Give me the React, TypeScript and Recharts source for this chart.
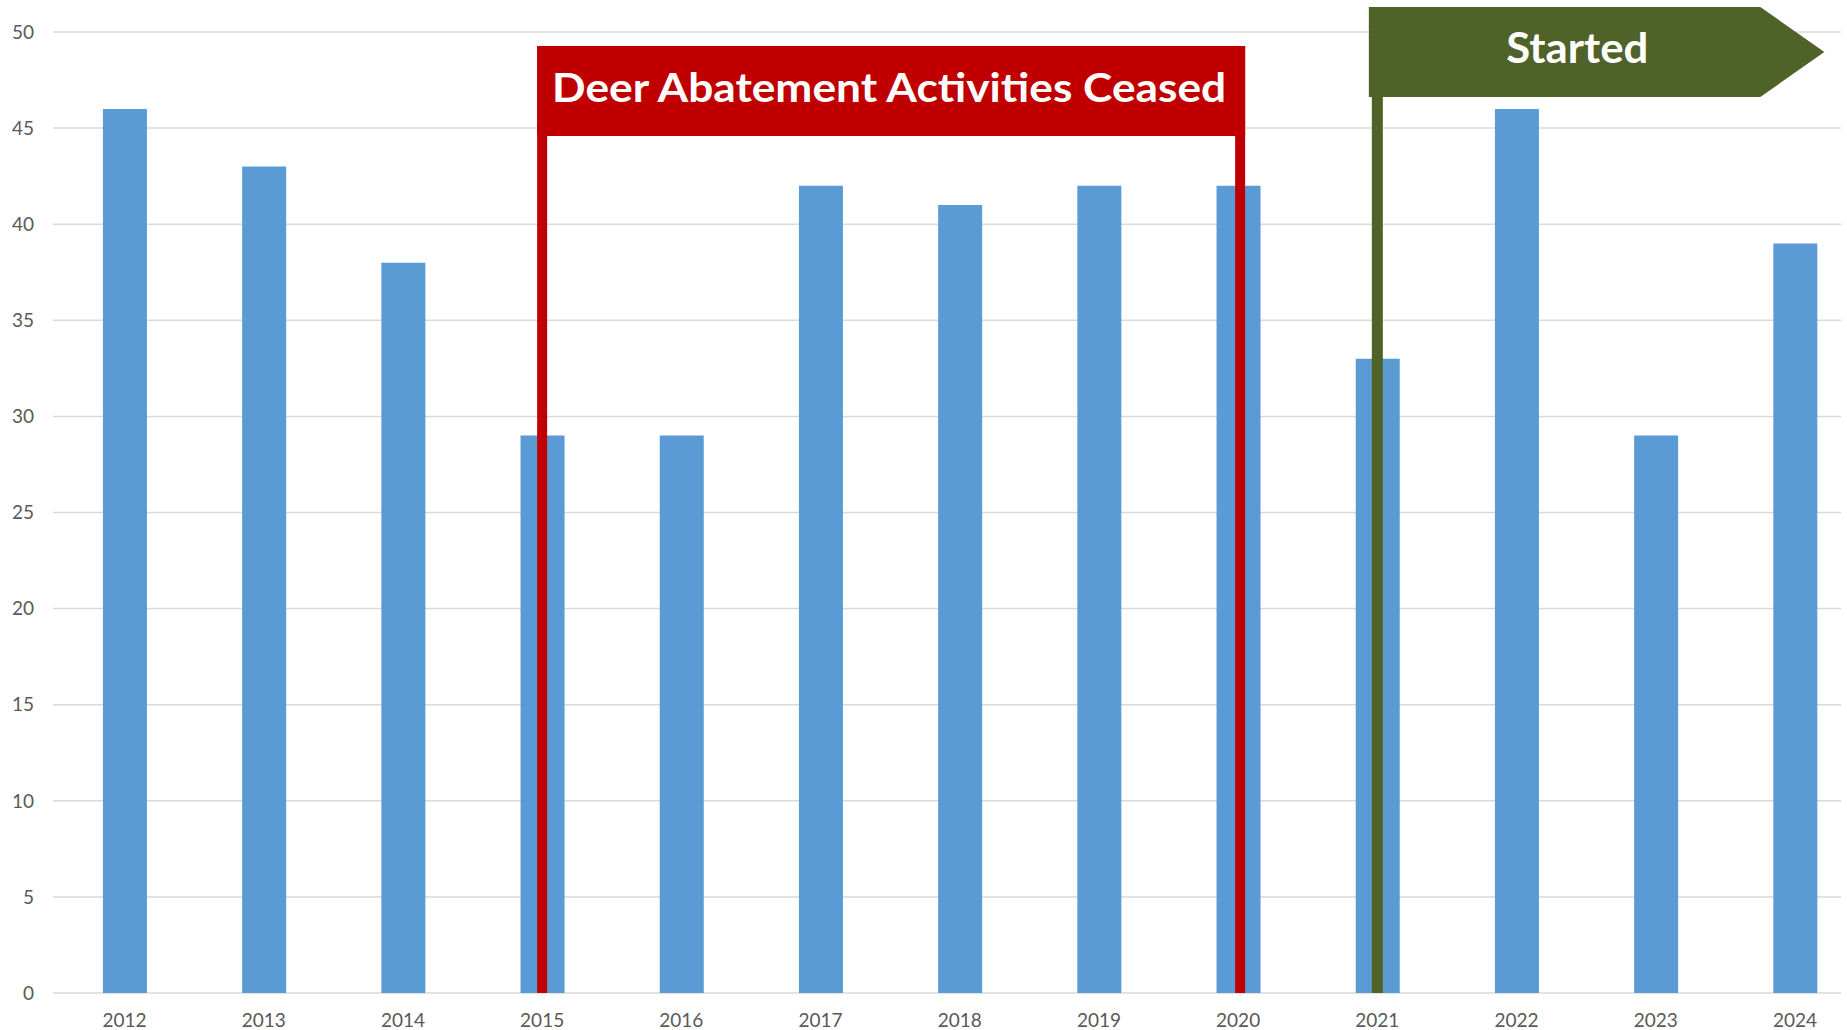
import React from "react";
import {
  Bar,
  BarChart,
  CartesianGrid,
  ReferenceArea,
  ReferenceLine,
  XAxis,
  YAxis,
} from "recharts";

const years = [2012, 2013, 2014, 2015, 2016, 2017, 2018, 2019, 2020, 2021, 2022, 2023, 2024];
const counts = [46, 43, 38, 29, 29, 42, 41, 42, 42, 33, 46, 29, 39];
const yTicks = [0, 5, 10, 15, 20, 25, 30, 35, 40, 45, 50];

const ceasedFrom = 2015;
const ceasedTo = 2020;
const startedYear = 2021;
const ceasedLabel = "Deer Abatement Activities Ceased";
const startedLabel = "Started";

const BLUE = "#5B9BD5";
const RED = "#C00000";
const GREEN = "#4F6228";
const GRID = "#D9D9D9";
const TEXT = "#595959";
const FONT = "Lato, 'Open Sans', sans-serif";

const data = years.map((year, i) => ({ year, count: counts[i] }));

function CeasedBanner(props: any) {
  const { x, y, width, height } = props;
  const left = x - 5;
  const right = x + width + 7;
  const top = y + 14;
  const bottom = y + height;
  return (
    <g>
      <rect x={left} y={top} width={right - left} height={90} fill={RED} />
      <rect x={left} y={top} width={10} height={bottom - top} fill={RED} />
      <rect x={right - 10} y={top} width={10} height={bottom - top} fill={RED} />
      <text
        x={(left + right) / 2 - 2}
        y={top + 56}
        textAnchor="middle"
        fill="#fff"
        fontFamily={FONT}
        fontWeight={700}
        fontSize={40}
        textLength={674}
        lengthAdjust="spacingAndGlyphs"
      >
        {ceasedLabel}
      </text>
    </g>
  );
}

function StartedFlag(props: any) {
  const cx = props.x1;
  const top = Math.min(props.y1, props.y2);
  const bottom = Math.max(props.y1, props.y2);
  const fTop = top - 25;
  const fBot = top + 65;
  const fLeft = cx - 8.5;
  const arrow = cx + 383;
  const tip = cx + 447;
  return (
    <g>
      <rect x={cx - 5.5} y={fBot - 1} width={11} height={bottom - fBot + 1} fill={GREEN} />
      <polygon
        points={`${fLeft},${fTop} ${arrow},${fTop} ${tip},${(fTop + fBot) / 2} ${arrow},${fBot} ${fLeft},${fBot}`}
        fill={GREEN}
      />
      <text
        x={cx + 200}
        y={top + 31}
        textAnchor="middle"
        fill="#fff"
        fontFamily={FONT}
        fontWeight={700}
        fontSize={42}
        textLength={142}
        lengthAdjust="spacingAndGlyphs"
      >
        {startedLabel}
      </text>
    </g>
  );
}

export default function App() {
  return (
    <div
      style={{
        position: "absolute",
        left: 0,
        top: 0,
        width: 1847,
        height: 1030,
        background: "#fff",
        overflow: "hidden",
      }}
    >
      <BarChart
        width={1847}
        height={1030}
        data={data}
        margin={{ top: 32, right: 6, left: 0, bottom: 0 }}
      >
        <CartesianGrid vertical={false} stroke={GRID} strokeWidth={1.5} />
        <XAxis
          dataKey="year"
          type="number"
          domain={[2011.486, 2024.331]}
          allowDataOverflow
          ticks={years}
          interval={0}
          height={37}
          axisLine={false}
          tickLine={false}
          tickSize={0}
          tickMargin={21}
          tick={{ fill: TEXT, fontSize: 19, fontFamily: FONT }}
        />
        <YAxis
          domain={[0, 50]}
          ticks={yTicks}
          width={53}
          axisLine={false}
          tickLine={false}
          tickSize={0}
          tickMargin={19}
          tick={{ fill: TEXT, fontSize: 19, fontFamily: FONT }}
        />
        <Bar dataKey="count" fill={BLUE} barSize={44} isAnimationActive={false} />
        <ReferenceArea
          x1={ceasedFrom}
          x2={ceasedTo}
          y1={0}
          y2={50}
          ifOverflow="visible"
          zIndex={1500}
          shape={CeasedBanner}
        />
        <ReferenceLine
          x={startedYear}
          ifOverflow="visible"
          zIndex={1500}
          shape={StartedFlag}
        />
      </BarChart>
    </div>
  );
}
